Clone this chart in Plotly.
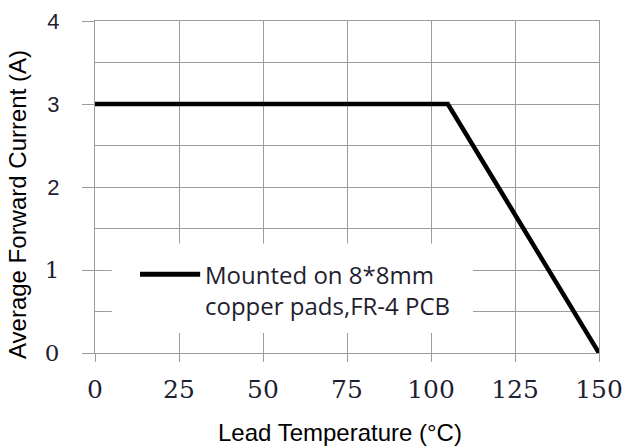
import plotly.graph_objects as go

# ---- data ----
temperature = [0, 105, 150]          # Lead temperature (°C)
current = [3, 3, 0]                  # Average forward current (A)
series_name = "Mounted on 8*8mm<br>copper pads,FR-4 PCB"

x_tickvals = [0, 25, 50, 75, 100, 125, 150]
x_ticktext = ["0", "25", "50", "75", "100", "125", "150"]
# the reference prints 2-4 in a sans face and 0-1 in a serif face
y_tickvals_sans = [2, 3, 4]
y_ticktext_sans = ["2", "3", "4"]
y_tickvals_serif = [0, 1]
y_ticktext_serif = ["0", "1"]

x_title = "Lead Temperature (°C)"
y_title = "Average Forward Current (A)"

# ---- styles ----
GRID = "#9c9c9c"
TICKCOL = "#1f1f33"
SERIF = "DejaVu Serif"
SANS = "Liberation Sans"

fig = go.Figure()
fig.add_trace(go.Scatter(
    x=temperature, y=current, mode="lines", name=series_name,
    line=dict(color="black", width=4.5), showlegend=False,
))
fig.add_trace(go.Scatter(x=[], y=[], yaxis="y2", showlegend=False, hoverinfo="skip"))

# legend box (manual, to match the long sample line)
fig.add_shape(type="rect", xref="x", yref="y", x0=5, x1=112.5, y0=0.24, y1=1.32,
              fillcolor="white", line=dict(width=0), layer="between")
fig.add_shape(type="line", xref="x", yref="y", x0=13.4, x1=31.3, y0=0.95, y1=0.95,
              line=dict(color="black", width=5), layer="above")
fig.add_annotation(xref="x", yref="y", x=32.0, y=0.765, text=series_name,
                   showarrow=False, xanchor="left", yanchor="middle", align="left",
                   font=dict(family="Open Sans", size=24, color="#1e1e30"))

# axis titles
fig.add_annotation(xref="paper", yref="paper", x=(340 - 95) / 504, y=-(432 - 353) / 332,
                   text=x_title, showarrow=False, xanchor="center", yanchor="middle",
                   font=dict(family=SANS, size=24, color="black"))
fig.add_annotation(xref="paper", yref="paper", x=-(95 - 17) / 504, y=(353 - 205) / 332,
                   text=y_title, showarrow=False, textangle=-90,
                   xanchor="center", yanchor="middle",
                   font=dict(family=SANS, size=24, color="black"))

fig.update_layout(
    width=626, height=447,
    margin=dict(l=95, r=27, t=21, b=94, autoexpand=False),
    plot_bgcolor="white", paper_bgcolor="white",
    showlegend=False,
)
fig.update_xaxes(
    range=[0, 150], tickvals=x_tickvals, ticktext=x_ticktext,
    showgrid=True, gridcolor=GRID, gridwidth=1.3, zeroline=False,
    showline=True, mirror=True, linecolor=GRID, linewidth=1.3,
    ticks="outside", ticklen=8, tickcolor=GRID, tickwidth=1.3,
    tickfont=dict(family=SERIF, size=25, color=TICKCOL),
    ticklabelstandoff=6,
)
fig.update_layout(
    yaxis=dict(
        range=[0, 4], tickvals=y_tickvals_sans, ticktext=y_ticktext_sans,
        showgrid=True, gridcolor=GRID, gridwidth=1.3, zeroline=False,
        showline=True, mirror=True, linecolor=GRID, linewidth=1.3,
        ticks="outside", ticklen=12, tickcolor=GRID, tickwidth=1.3,
        tickfont=dict(family=SANS, size=22, color=TICKCOL),
        ticklabelstandoff=18,
        minor=dict(dtick=0.5, tick0=0, showgrid=True, gridcolor=GRID, gridwidth=1.3, ticks=""),
    ),
    yaxis2=dict(
        overlaying="y", anchor="x", side="left",
        range=[0, 4], tickvals=y_tickvals_serif, ticktext=y_ticktext_serif,
        showgrid=False, zeroline=False, showline=False,
        ticks="outside", ticklen=12, tickcolor=GRID, tickwidth=1.3,
        tickfont=dict(family=SERIF, size=23, color=TICKCOL),
        ticklabelstandoff=18,
    ),
)

fig.write_html("out.html")
